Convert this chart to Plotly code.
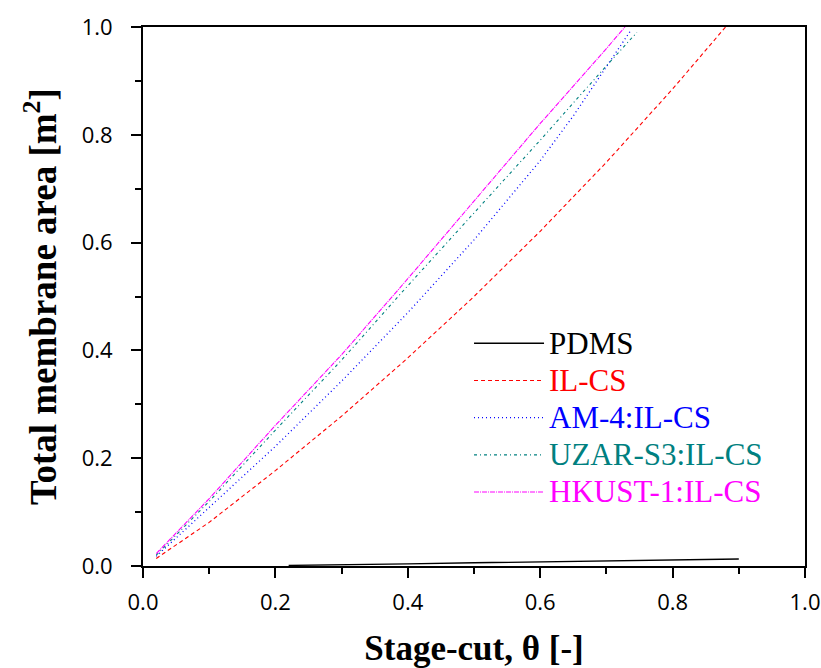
import plotly.graph_objects as go

# ---- data ----
pdms_x = [0.22, 0.30, 0.40, 0.50, 0.60, 0.70, 0.80, 0.90]
pdms_y = [0.001, 0.002, 0.004, 0.006, 0.008, 0.010, 0.012, 0.013]

ilcs_x = [0.02, 0.10, 0.20, 0.30, 0.40, 0.50, 0.60, 0.70, 0.80, 0.88]
ilcs_y = [0.014, 0.081, 0.177, 0.278, 0.386, 0.500, 0.621, 0.749, 0.885, 1.000]

am4_x = [0.02, 0.10, 0.20, 0.30, 0.40, 0.50, 0.60, 0.65, 0.70, 0.737]
am4_y = [0.018, 0.108, 0.222, 0.343, 0.470, 0.605, 0.752, 0.835, 0.925, 0.994]

uzar_x = [0.02, 0.10, 0.20, 0.30, 0.40, 0.50, 0.60, 0.70, 0.746]
uzar_y = [0.020, 0.120, 0.252, 0.382, 0.520, 0.655, 0.790, 0.928, 0.990]

hkust_x = [0.02, 0.10, 0.20, 0.30, 0.40, 0.50, 0.60, 0.70, 0.728]
hkust_y = [0.023, 0.125, 0.261, 0.392, 0.533, 0.678, 0.821, 0.960, 1.000]

names = ["PDMS", "IL-CS", "AM-4:IL-CS", "UZAR-S3:IL-CS", "HKUST-1:IL-CS"]
colors = ["#000000", "#FF0000", "#0000FF", "#008080", "#FF00FF"]
dashes = ["solid", "4px,3px", "1px,3px", "3px,3px,1px,3px", "5px,1px,1px,1px"]
widths = [1.3, 1.1, 1.3, 1.1, 1.1]

series = [(pdms_x, pdms_y), (ilcs_x, ilcs_y), (am4_x, am4_y),
          (uzar_x, uzar_y), (hkust_x, hkust_y)]

fig = go.Figure()
for (xs, ys), n, c, d, w in zip(series, names, colors, dashes, widths):
    fig.add_trace(go.Scatter(
        x=xs, y=ys, mode="lines",
        name=f"<span style='color:{c};font-size:31px'>{n}</span>",
        line=dict(color=c, dash=d, width=w),
    ))

axis_common = dict(
    range=[0, 1], dtick=0.2, tick0=0, tickformat=".1f",
    showline=True, linecolor="black", linewidth=2, mirror=True,
    ticks="outside", ticklen=10, tickwidth=2, tickcolor="black",
    minor=dict(ticks="outside", ticklen=6, tickwidth=2, dtick=0.1, tickcolor="black"),
    showgrid=False, zeroline=False, automargin=False,
    tickfont=dict(family="Open Sans", size=22, color="black"),
)

fig.update_xaxes(**axis_common, ticklabelstandoff=6,
                 title=dict(text="<b>Stage-cut, θ [-]</b>", standoff=24,
                            font=dict(family="Liberation Serif", size=35, color="black")))
fig.update_yaxes(**axis_common, ticklabelstandoff=14,
                 title=dict(text="<b>Total membrane area [m<sup>2</sup>]</b>", standoff=14,
                            font=dict(family="Liberation Serif", size=37, color="black")))

fig.update_layout(
    width=821, height=668,
    margin=dict(l=143, r=16, t=27, b=102),
    plot_bgcolor="white", paper_bgcolor="white",
    font=dict(family="Liberation Serif"),
    legend=dict(
        x=0.4925, y=0.457, xanchor="left", yanchor="top",
        font=dict(family="Liberation Serif", size=26.3, color="black"),
        itemwidth=70, tracegroupgap=0, bgcolor="rgba(0,0,0,0)",
    ),
    showlegend=True,
)

fig.write_html("out.html")
